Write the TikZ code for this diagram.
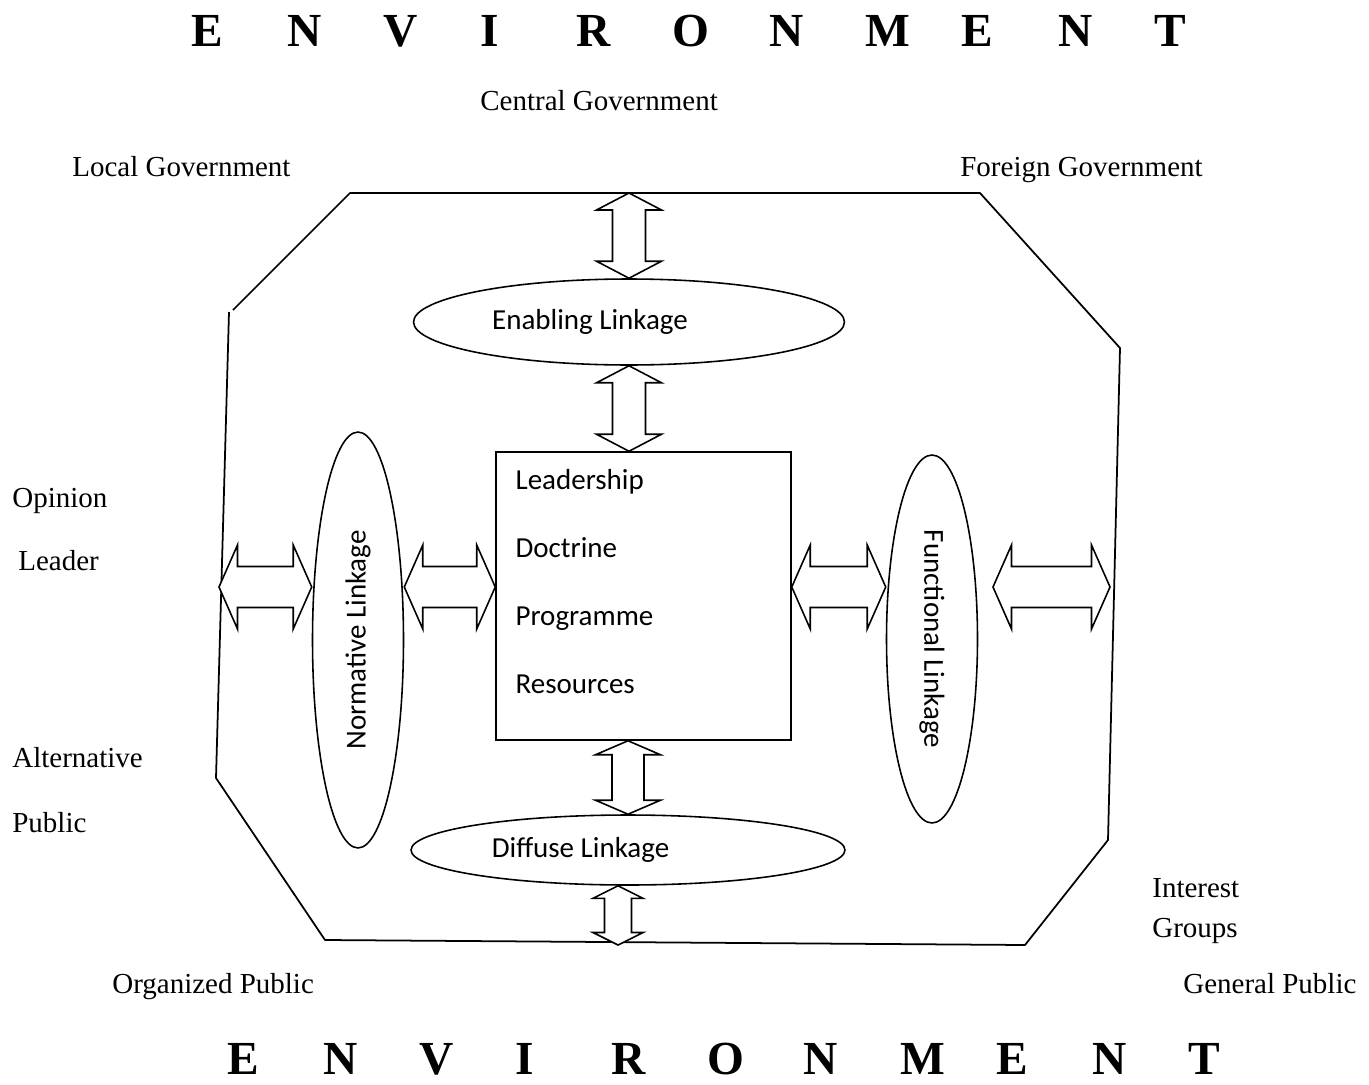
\documentclass[tikz,border=0pt]{standalone}
\usepackage{fontspec}
\usepackage{graphicx}
\setmainfont{Liberation Serif}
\newfontfamily\linkfont{Carlito}
\usetikzlibrary{calc,positioning,shapes.geometric}
% hollow two-headed block arrow: from, to, head half width, shaft half width, head length
\newcommand{\blockarrow}[5]{%
  \draw[blockarr] (#1)
    -- ($(#1)!#5!(#2)!#3!90:(#2)$) -- ($(#1)!#5!(#2)!#4!90:(#2)$)
    -- ($(#2)!#5!(#1)!#4!-90:(#1)$) -- ($(#2)!#5!(#1)!#3!-90:(#1)$)
    -- (#2)
    -- ($(#2)!#5!(#1)!#3!90:(#1)$) -- ($(#2)!#5!(#1)!#4!90:(#1)$)
    -- ($(#1)!#5!(#2)!#4!-90:(#2)$) -- ($(#1)!#5!(#2)!#3!-90:(#2)$)
    -- cycle;}
\tikzset{
  wall/.style={line width=1pt,line join=round},
  blockarr/.style={draw,fill=white,line width=0.9pt,line join=miter},
  linkage/.style={draw,ellipse,line width=0.9pt,inner sep=0pt,font=\linkfont\fontsize{16.5}{20}\selectfont},
  orgbox/.style={draw,rectangle,line width=0.9pt,inner sep=0pt},
  duty/.style={anchor=base west,inner sep=0pt,font=\linkfont\fontsize{16.5}{20}\selectfont},
  actor/.style={anchor=base west,inner sep=0pt,font=\fontsize{16.5}{20}\selectfont},
  envletter/.style={anchor=base west,inner sep=0pt,font=\bfseries\fontsize{27}{30}\selectfont}
}
\begin{document}
\begin{tikzpicture}[x=0.02cm,y=-0.02cm]
\useasboundingbox (0,0) rectangle (1369,1085);

\foreach \ch [count=\i from 0] in {E,N,V,I,R,O,N,M,E,N,T}{
  \node[envletter] (envtop\i) at (191+96.3*\i,46) {\ch};
  \node[envletter] (envbot\i) at (227+96.1*\i,1074) {\ch};
}

\node[actor] (central) at (480,110) {Central Government};
\node[actor] (local) at (72,176) {Local Government};
\node[actor] (foreign) at (960,176) {Foreign Government};
\node[actor] (opinion) at (12,507) {Opinion};
\node[actor] (leader) at (18,570) {Leader};
\node[actor] (altern) at (12,767) {Alternative};
\node[actor] (altpub) at (12,832) {Public};
\node[actor] (interest) at (1152,897) {Interest};
\node[actor] (groups) at (1152,937) {Groups};
\node[actor] (organized) at (112,993) {Organized Public};
\node[actor] (general) at (1183,993) {General Public};

% organisation boundary
\coordinate (c1) at (350,193);
\coordinate (c2) at (980,193);
\coordinate (c3) at (1120,348);
\coordinate (c4) at (1108,840);
\coordinate (c5) at (1025,945);
\coordinate (c6) at (325,940);
\coordinate (c7) at (216,778);
\coordinate (c8) at (229,312);
\draw[wall] (c8) -- (c7) -- (c6) -- (c5) -- (c4) -- (c3) -- (c2) -- (c1) -- (233,310);

\node[orgbox,minimum width=5.9cm,minimum height=5.76cm] (core) at (643.5,596) {};
\foreach \w [count=\k from 0] in {Leadership,Doctrine,Programme,Resources}
  \node[duty] (duty\k) at ($(core.north west)+(20,38+68*\k)$) {\w};

\node[linkage,minimum width=8.62cm,minimum height=1.72cm] (enabling) at (629,322) {Enabling Linkage\hspace*{1.56cm}};
\node[linkage,minimum width=8.68cm,minimum height=1.4cm] (diffuse) at (628,850) {Diffuse Linkage\hspace*{1.9cm}};
\node[linkage,minimum width=1.82cm,minimum height=8.32cm] (normative) at (358,640) {\rotatebox{90}{Normative Linkage}};
\node[linkage,minimum width=1.82cm,minimum height=7.36cm] (functional) at (932,639) {\rotatebox{-90}{Functional Linkage}};

\coordinate (row) at (0,587);
\coordinate (lw) at (219,587);
\coordinate (rwin) at (993,587);
\coordinate (rw) at (1110,587);
\coordinate (floor) at (618,945);

\blockarrow{enabling.north |- c1}{enabling.north}{0.65cm}{0.33cm}{0.34cm}
\blockarrow{enabling.south}{enabling.south |- core.north}{0.65cm}{0.33cm}{0.34cm}
\blockarrow{diffuse.north |- core.south}{diffuse.north}{0.65cm}{0.32cm}{0.28cm}
\blockarrow{diffuse.south -| floor}{floor}{0.5cm}{0.27cm}{0.25cm}
\blockarrow{lw}{normative.west |- row}{0.84cm}{0.41cm}{0.37cm}
\blockarrow{normative.east |- row}{core.west |- row}{0.84cm}{0.41cm}{0.37cm}
\blockarrow{core.east |- row}{functional.west |- row}{0.84cm}{0.41cm}{0.37cm}
\blockarrow{rwin}{rw}{0.84cm}{0.41cm}{0.37cm}
\end{tikzpicture}
\end{document}
